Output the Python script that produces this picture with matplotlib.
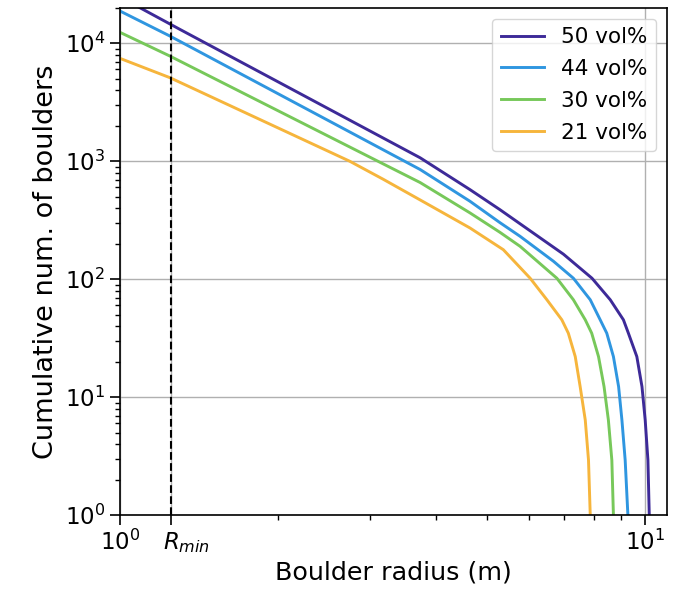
import numpy as np
import matplotlib.pyplot as plt
import matplotlib.transforms as mtransforms
from matplotlib.ticker import NullFormatter

# cumulative boulder counts
r_50 = [1.00, 1.30, 3.73, 4.64, 5.29, 5.78, 6.99, 7.92, 8.58, 9.09, 9.29, 9.64, 9.86, 10.0, 10.12, 10.18]
n_50 = [24750, 13150, 1070, 575, 389, 295, 163, 102, 67, 45.3, 34.9, 22.1, 12.3, 6.41, 2.93, 1]

r_44 = [1.00, 1.245, 3.73, 4.64, 5.29, 5.78, 6.69, 7.30, 7.86, 8.21, 8.45, 8.70, 8.90, 9.03, 9.16, 9.27]
n_44 = [18800, 11530, 851, 458, 302, 231, 142, 102, 67, 45.3, 34.9, 22.1, 12.3, 6.41, 2.93, 1]

r_30 = [1.00, 1.245, 3.10, 3.73, 4.64, 5.29, 5.78, 6.79, 7.30, 7.69, 7.91, 8.15, 8.35, 8.51, 8.64, 8.70]
n_30 = [12400, 7800, 1000, 660, 365, 250, 190, 102, 67, 45.3, 34.9, 22.1, 12.3, 6.41, 2.93, 1]

r_21 = [1.00, 1.245, 2.74, 3.17, 3.73, 4.64, 5.37, 6.04, 6.50, 6.94, 7.14, 7.36, 7.52, 7.69, 7.80, 7.86]
n_21 = [7460, 5115, 1000, 705, 470, 272, 178, 102, 67, 45.3, 34.9, 22.1, 12.3, 6.41, 2.93, 1]

r_min = 1.25

plt.rcParams['font.size'] = 15.5

fig = plt.figure(figsize=(6.73, 5.97), dpi=100)
ax = fig.add_axes([0.178, 0.137, 0.813, 0.85])

ax.plot(r_50, n_50, color='#3d2a98', lw=2.1, label='50 vol%')
ax.plot(r_44, n_44, color='#2f96e0', lw=2.1, label='44 vol%')
ax.plot(r_30, n_30, color='#77c85a', lw=2.1, label='30 vol%')
ax.plot(r_21, n_21, color='#f6b53c', lw=2.1, label='21 vol%')
ax.axvline(r_min, color='black', ls='--', lw=1.5)

ax.set_xscale('log')
ax.set_yscale('log')
ax.set_xlim(1, 11.0)
ax.set_ylim(1, 2e4)
ax.set_xticks([1, r_min, 10])
ax.set_xticklabels(['$10^0$', '$R_{min}$', '$10^1$'])
ax.xaxis.set_minor_formatter(NullFormatter())
ax.tick_params(which='major', length=7, width=1.2, labelsize=16.5)
ax.tick_params(which='minor', length=3.5, width=1)
for s in ax.spines.values():
    s.set_linewidth(1.2)
ax.grid(True, which='major', color='#b0b0b0', lw=1)

# R_min label sits a bit right of its tick
lab = ax.get_xticklabels()[1]
lab.set_transform(lab.get_transform() + mtransforms.ScaledTranslation(0.16, 0, fig.dpi_scale_trans))

ax.set_xlabel('Boulder radius (m)', fontsize=18.3)
ax.set_ylabel('Cumulative num. of boulders', fontsize=19.5)
ax.legend(loc='upper right', labelspacing=0.55)

plt.savefig('out.png')
